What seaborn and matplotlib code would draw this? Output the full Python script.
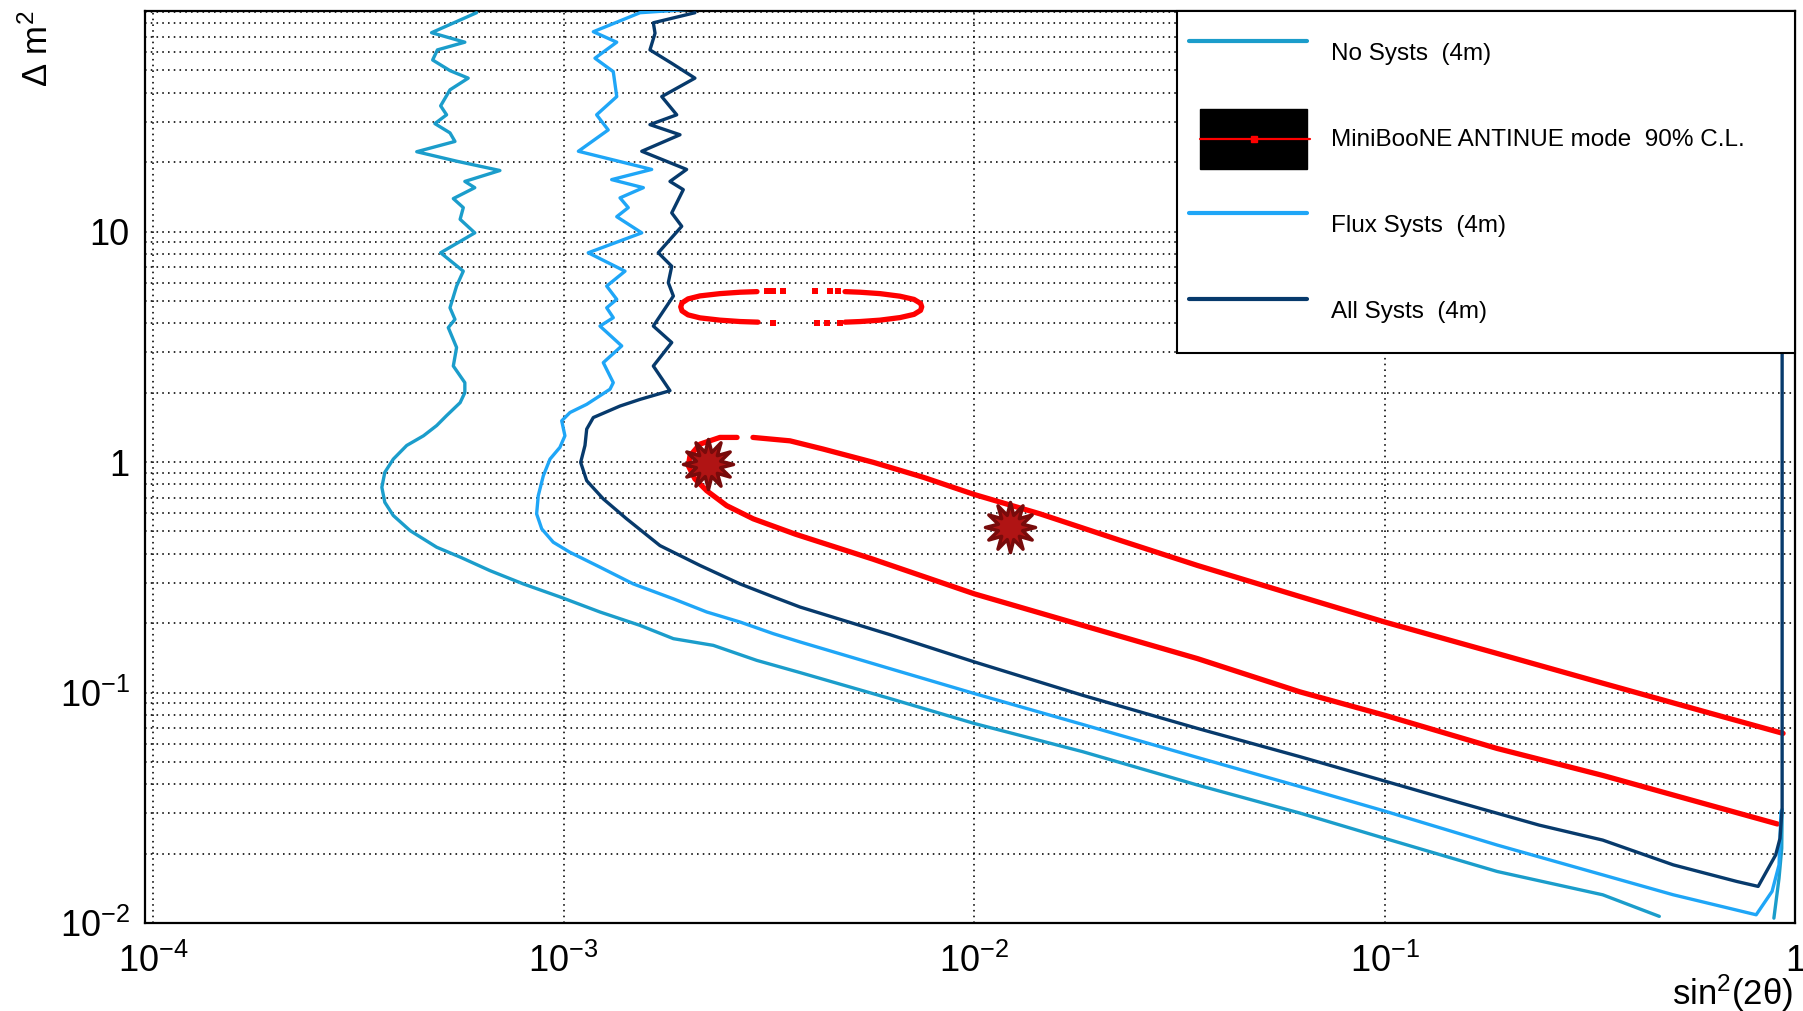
import numpy as np
import matplotlib
matplotlib.use("Agg")
import matplotlib.pyplot as plt
import seaborn as sns
from matplotlib.ticker import FixedLocator, LogLocator, NullFormatter
from matplotlib.patches import Patch, Rectangle
from matplotlib.lines import Line2D
from matplotlib.legend_handler import HandlerBase

# ---------------- data ----------------
nosys_x = [6.14e-4, 4.77e-4, 5.75e-4, 4.93e-4, 4.80e-4, 5.29e-4, 5.86e-4, 5.29e-4, 5.02e-4, 5.19e-4,
           4.86e-4, 5.29e-4, 5.44e-4, 4.39e-4, 5.49e-4, 7.00e-4, 5.75e-4, 6.08e-4, 5.39e-4, 5.70e-4,
           5.60e-4, 6.08e-4, 5.02e-4, 5.70e-4, 5.49e-4, 5.29e-4, 5.44e-4, 5.24e-4, 5.49e-4, 5.39e-4,
           5.75e-4, 5.75e-4, 5.60e-4, 5.19e-4, 4.91e-4, 4.56e-4, 4.15e-4, 3.85e-4, 3.67e-4, 3.61e-4,
           3.67e-4, 3.85e-4, 4.23e-4, 4.91e-4, 5.60e-4, 6.62e-4, 7.98e-4, 9.80e-4, 1.227e-3, 1.536e-3,
           1.852e-3, 2.317e-3, 2.956e-3, 3.767e-3, 6.24e-3, 1.002e-2, 1.839e-2, 3.50e-2, 6.22e-2, 0.1001,
           0.188, 0.340, 0.467]
nosys_y = [89.0, 72.9, 66.3, 61.4, 55.5, 49.9, 46.3, 41.2, 35.1, 32.1,
           29.4, 26.8, 24.6, 22.2, 20.2, 18.4, 16.5, 15.5, 13.9, 12.7,
           11.3, 9.87, 8.09, 6.73, 5.80, 4.67, 4.16, 3.83, 3.14, 2.61,
           2.21, 2.00, 1.81, 1.59, 1.44, 1.30, 1.18, 1.03, 0.902, 0.777,
           0.669, 0.586, 0.504, 0.427, 0.387, 0.338, 0.296, 0.260, 0.2236, 0.1956,
           0.1713, 0.1602, 0.1379, 0.1221, 0.0942, 0.0734, 0.0554, 0.0397, 0.0300, 0.0233,
           0.01674, 0.01326, 0.01069]
nosys_edge_x = [0.888, 0.914, 0.928, 0.930]
nosys_edge_y = [0.0105, 0.01566, 0.0211, 0.0311]

flux_x = [2.07e-3, 1.536e-3, 1.182e-3, 1.348e-3, 1.193e-3, 1.322e-3, 1.348e-3, 1.204e-3, 1.285e-3, 1.087e-3,
          1.640e-3, 1.310e-3, 1.565e-3, 1.373e-3, 1.438e-3, 1.348e-3, 1.551e-3, 1.149e-3, 1.412e-3, 1.274e-3,
          1.348e-3, 1.274e-3, 1.322e-3, 1.227e-3, 1.386e-3, 1.250e-3, 1.322e-3, 1.298e-3, 1.139e-3, 1.037e-3,
          9.90e-4, 1.008e-3, 9.80e-4, 9.27e-4, 8.93e-4, 8.68e-4, 8.60e-4, 8.85e-4, 9.44e-4, 1.037e-3,
          1.227e-3, 1.479e-3, 1.852e-3, 2.233e-3, 2.692e-3, 3.245e-3, 3.767e-3, 6.24e-3, 1.002e-2, 1.839e-2,
          3.50e-2, 6.22e-2, 0.1001, 0.188, 0.340, 0.505, 0.804, 0.879, 0.914, 0.924]
flux_y = [92.3, 89.0, 73.6, 66.3, 56.5, 49.4, 38.5, 32.1, 27.6, 22.3,
          18.6, 16.8, 15.5, 14.0, 12.7, 11.6, 9.87, 8.09, 6.73, 5.80,
          5.08, 4.67, 4.23, 3.89, 3.19, 2.70, 2.21, 2.07, 1.78, 1.64,
          1.51, 1.30, 1.158, 1.030, 0.872, 0.715, 0.596, 0.513, 0.449, 0.406,
          0.350, 0.296, 0.255, 0.2236, 0.2023, 0.180, 0.1658, 0.127, 0.0990, 0.0727,
          0.0523, 0.0391, 0.0306, 0.0218, 0.01618, 0.01326, 0.01086, 0.01372, 0.01788, 0.0305]

all_x = [2.09e-3, 1.655e-3, 1.671e-3, 1.624e-3, 1.835e-3, 2.09e-3, 1.735e-3, 1.887e-3, 1.624e-3, 1.922e-3,
         1.551e-3, 1.995e-3, 1.817e-3, 1.958e-3, 1.835e-3, 1.941e-3, 1.702e-3, 1.835e-3, 1.800e-3, 1.852e-3,
         1.655e-3, 1.835e-3, 1.655e-3, 1.817e-3, 1.536e-3, 1.373e-3, 1.182e-3, 1.139e-3, 1.128e-3, 1.101e-3,
         1.139e-3, 1.250e-3, 1.425e-3, 1.718e-3, 2.150e-3, 2.692e-3, 3.245e-3, 3.767e-3, 6.24e-3, 1.002e-2,
         1.839e-2, 3.50e-2, 6.22e-2, 0.1001, 0.1541, 0.238, 0.340, 0.505, 0.721, 0.813,
         0.897, 0.919, 0.930, 0.930]
all_y = [89.0, 80.5, 72.5, 61.4, 53.7, 46.3, 38.5, 32.1, 29.1, 26.3,
         22.3, 18.6, 16.5, 15.2, 12.05, 10.54, 8.09, 7.07, 6.00, 5.25,
         3.89, 3.30, 2.61, 2.04, 1.87, 1.75, 1.56, 1.39, 1.18, 0.997,
         0.830, 0.692, 0.567, 0.434, 0.356, 0.296, 0.260, 0.235, 0.1783, 0.1358,
         0.0973, 0.0699, 0.0527, 0.0413, 0.0331, 0.0266, 0.0229, 0.01788, 0.01515, 0.01442,
         0.01975, 0.0233, 0.0315, 95.0]

# MiniBooNE 90% C.L. main region (upper and lower edges)
mb_up_x = [2.894e-3, 3.562e-3, 4.295e-3, 5.686e-3, 7.524e-3, 1.002e-2, 1.448e-2, 2.281e-2, 3.50e-2,
           6.22e-2, 0.1001, 0.188, 0.340, 0.616, 0.935]
mb_up_y = [1.279, 1.236, 1.138, 0.997, 0.859, 0.723, 0.596, 0.456, 0.356,
           0.261, 0.2023, 0.1478, 0.1098, 0.0817, 0.0665]
mb_lo_x = [0.906, 0.340, 0.188, 0.1001, 6.22e-2, 3.50e-2, 1.839e-2, 1.002e-2, 5.649e-3, 3.677e-3,
           2.900e-3, 2.497e-3, 2.233e-3, 2.09e-3, 2.014e-3, 2.033e-3, 2.150e-3, 2.405e-3, 2.647e-3]
mb_lo_y = [0.0269, 0.0437, 0.0572, 0.0797, 0.1007, 0.1404, 0.1956, 0.268, 0.380, 0.486,
           0.567, 0.647, 0.751, 0.844, 0.964, 1.065, 1.196, 1.279, 1.279]
# MiniBooNE island near 4.7 eV^2
isl_left_x = [2.960e-3, 2.692e-3, 2.405e-3, 2.150e-3, 2.011e-3, 1.944e-3, 1.930e-3, 1.944e-3, 2.011e-3,
              2.150e-3, 2.405e-3, 2.692e-3, 2.977e-3]
isl_left_y = [5.488, 5.455, 5.379, 5.258, 5.103, 4.904, 4.713, 4.527, 4.350, 4.222, 4.127, 4.070, 4.045]
isl_right_x = [4.850e-3, 5.277e-3, 5.902e-3, 6.602e-3, 7.142e-3, 7.408e-3, 7.458e-3, 7.408e-3, 7.142e-3,
               6.602e-3, 5.902e-3, 5.277e-3, 4.850e-3]
isl_right_y = [5.488, 5.455, 5.379, 5.242, 5.077, 4.880, 4.713, 4.550, 4.372, 4.234, 4.127, 4.070, 4.045]
isl_dot_x = [3.131e-3, 3.238e-3, 3.424e-3, 4.099e-3, 4.459e-3, 4.663e-3, 3.238e-3, 4.145e-3, 4.384e-3, 4.717e-3]
isl_dot_y = [5.521, 5.521, 5.521, 5.521, 5.521, 5.521, 4.029, 4.029, 4.029, 4.029]
# best-fit stars
star_x = [2.254e-3, 1.224e-2]
star_y = [0.980, 0.522]

x_ticks = [1e-4, 1e-3, 1e-2, 1e-1, 1]
x_tick_labels = [r"$\mathregular{10^{-4}}$", r"$\mathregular{10^{-3}}$", r"$\mathregular{10^{-2}}$",
                 r"$\mathregular{10^{-1}}$", "1"]
y_ticks = [1e-2, 1e-1, 1, 10]
y_tick_labels = [r"$\mathregular{10^{-2}}$", r"$\mathregular{10^{-1}}$", "1", "10"]
legend_labels = ["No Systs  (4m)", "MiniBooNE ANTINUE mode  90% C.L.", "Flux Systs  (4m)", "All Systs  (4m)"]

# ---------------- style ----------------
sns.set_theme(style="white")
plt.rcParams["font.family"] = ["Liberation Sans", "DejaVu Sans"]
plt.rcParams["mathtext.fontset"] = "custom"
plt.rcParams["mathtext.rm"] = "Liberation Sans"
plt.rcParams["mathtext.it"] = "Liberation Sans:italic"
plt.rcParams["mathtext.bf"] = "Liberation Sans:bold"
plt.rcParams["axes.unicode_minus"] = False
for k in ["text.color", "axes.labelcolor", "xtick.color", "ytick.color", "axes.edgecolor"]:
    plt.rcParams[k] = "black"

c_no = "#1b9dcb"
c_flux = "#1fa6f7"
c_all = "#073a6c"
c_red = "#ff0000"

fig = plt.figure(figsize=(18.03, 10.11), dpi=100)
ax = fig.add_axes([0.0804, 0.0870, 0.9152, 0.9024])
ax.set_xscale("log")
ax.set_yscale("log")

lw_c = 2.4
sns.lineplot(x=nosys_x, y=nosys_y, sort=False, estimator=None, color=c_no, linewidth=lw_c, ax=ax, zorder=3)
sns.lineplot(x=nosys_edge_x, y=nosys_edge_y, sort=False, estimator=None, color=c_no, linewidth=lw_c, ax=ax, zorder=3)

lw_r = 3.8
sns.lineplot(x=mb_up_x, y=mb_up_y, sort=False, estimator=None, color=c_red, linewidth=lw_r, ax=ax, zorder=3.5)
sns.lineplot(x=mb_lo_x, y=mb_lo_y, sort=False, estimator=None, color=c_red, linewidth=lw_r, ax=ax, zorder=3.5)
sns.lineplot(x=isl_left_x, y=isl_left_y, sort=False, estimator=None, color=c_red, linewidth=lw_r, ax=ax, zorder=3.5)
sns.lineplot(x=isl_right_x, y=isl_right_y, sort=False, estimator=None, color=c_red, linewidth=lw_r, ax=ax, zorder=3.5)
sns.scatterplot(x=isl_dot_x, y=isl_dot_y, marker="s", s=18, color=c_red, linewidth=0, ax=ax, zorder=3.5)

sns.lineplot(x=flux_x, y=flux_y, sort=False, estimator=None, color=c_flux, linewidth=lw_c, ax=ax, zorder=4)
sns.lineplot(x=all_x, y=all_y, sort=False, estimator=None, color=c_all, linewidth=lw_c, ax=ax, zorder=4.5)

sns.scatterplot(x=star_x, y=star_y, marker=(12, 1, 0), s=1300, color="#b01414",
                edgecolor="#780b0b", linewidth=2.5, ax=ax, zorder=6)

# ---------------- axes ----------------
ax.set_xlim(9.56e-5, 1.0)
ax.set_ylim(0.01, 90.8)
ax.xaxis.set_major_locator(FixedLocator(x_ticks))
ax.set_xticklabels(x_tick_labels)
ax.yaxis.set_major_locator(FixedLocator(y_ticks))
ax.set_yticklabels(y_tick_labels)
ax.xaxis.set_minor_locator(LogLocator(base=10, subs=np.arange(2, 10), numticks=100))
ax.yaxis.set_minor_locator(LogLocator(base=10, subs=np.arange(2, 10), numticks=100))
ax.xaxis.set_minor_formatter(NullFormatter())
ax.yaxis.set_minor_formatter(NullFormatter())

ax.set_axisbelow(True)
grid_kw = dict(color="black", linestyle=(0, (1, 2.6)), linewidth=1.15)
ax.grid(True, which="major", axis="both", **grid_kw)
ax.grid(True, which="minor", axis="y", **grid_kw)
ax.grid(False, which="minor", axis="x")

ax.tick_params(axis="both", which="both", direction="in", top=False, right=False, width=1.5, colors="black")
ax.tick_params(axis="x", which="major", length=20, pad=15, labelsize=26)
ax.tick_params(axis="x", which="minor", length=11)
ax.tick_params(axis="y", which="major", length=35, pad=11, labelsize=26)
ax.tick_params(axis="y", which="minor", length=19)
for sp in ax.spines.values():
    sp.set_visible(True)
    sp.set_color("black")
    sp.set_linewidth(1.6)

ax.set_xlabel(r"sin$^{\mathregular{2}}$(2θ)", fontsize=25, ha="right", va="center")
ax.xaxis.set_label_coords(0.999, -0.077)
ax.set_ylabel(r"Δ m$^{\mathregular{2}}$", fontsize=25, rotation=90, ha="right", va="center")
ax.yaxis.set_label_coords(-0.065, 1.0)


# ---------------- legend ----------------
class MiniBooNEHandler(HandlerBase):
    """Black filled box with a red line and a small red square through its middle."""
    def create_artists(self, legend, orig_handle, xdescent, ydescent, width, height, fontsize, trans):
        x0, y0 = -xdescent, -ydescent
        yc = y0 + height / 2.0
        rect = Rectangle((x0 + 8, y0), width - 8, height, facecolor="black", edgecolor="black",
                         transform=trans)
        line = Line2D([x0 + 8, x0 + width + 2], [yc, yc], color=c_red, linewidth=1.6, transform=trans)
        mark = Line2D([x0 + 4 + width / 2.0], [yc], color=c_red, marker="s", markersize=4,
                      linewidth=0, transform=trans)
        return [rect, line, mark]


mb_handle = Patch(facecolor="black", edgecolor="black")
handles = [
    Line2D([], [], color=c_no, linewidth=3),
    mb_handle,
    Line2D([], [], color=c_flux, linewidth=3),
    Line2D([], [], color=c_all, linewidth=3),
]
leg = ax.legend(handles, legend_labels, handler_map={mb_handle: MiniBooNEHandler()},
                loc="upper left", bbox_to_anchor=(0.6255, 0.625, 0.3745, 0.375), mode="expand",
                borderaxespad=0, fontsize=17.5, handlelength=4.86, handleheight=3.42,
                handletextpad=0.99, labelspacing=1.07, borderpad=0.5, fancybox=False,
                framealpha=1, shadow=False)
leg.get_frame().set_edgecolor("black")
leg.get_frame().set_linewidth(1.5)
leg.set_zorder(10)

fig.savefig("out.png", dpi=100)
